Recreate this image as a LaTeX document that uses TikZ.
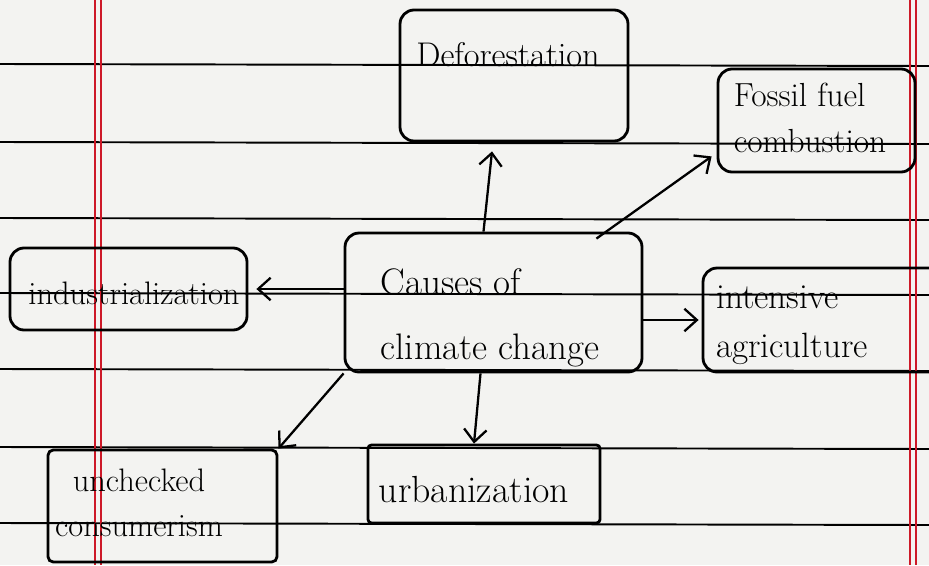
\documentclass[tikz,border=0pt]{standalone}
\usetikzlibrary{arrows.meta,calc,fit}
\definecolor{paper}{RGB}{243,243,241}
\definecolor{margin}{RGB}{205,25,40}
\tikzset{
  box/.style={draw, line width=1.6pt, rounded corners=8pt, inner sep=0pt},
  arr/.style={line width=1.3pt, -{Straight Barb[length=2.5mm,width=4.5mm]}},
  rule/.style={line width=1.1pt},
  hand/.style={inner sep=0pt, align=left},
}
\begin{document}
\begin{tikzpicture}[x=0.02cm,y=-0.02cm]
    \useasboundingbox (0,0) rectangle (929,565);
    \clip (0,0) rectangle (929,565);
    \fill[paper] (0,0) rectangle (929,565);

    % ruled paper
    \foreach \y in {64,142,218,293,369,447,523}
      \draw[rule] (0,\y) -- (929,\y+2);
    \foreach \x in {95,101,910,916}
      \draw[margin, line width=0.8pt] (\x,0) -- (\x,565);

    % boxes
    \node[box, fit={(400,10) (628,141)}] (defor) {};
    \node[box, fit={(718,69) (915,172)}] (fossil) {};
    \node[box, fit={(345,233) (642,372)}] (causes) {};
    \node[box, fit={(10,248) (247,330)}] (indus) {};
    \node[box, fit={(703,268) (950,372)}] (agri) {};
    \node[box, rounded corners=3pt, fit={(48,450) (277,562)}] (consum) {};
    \node[box, rounded corners=2pt, fit={(368,445) (600,523)}] (urban) {};

    \node[hand, font=\fontsize{19.5}{20}\selectfont] (tdefor) at (508,55) {Deforestation};
    \node[hand, font=\fontsize{19}{26}\selectfont] (tfossil) at (810,118) {Fossil fuel\\combustion};
    \node[hand, font=\fontsize{21}{37}\selectfont] (tcauses) at (490,318) {Causes of\\climate change};
    \node[hand, font=\fontsize{18.5}{20}\selectfont] (tindus) at (134,293) {industrialization};
    \node[hand, font=\fontsize{20}{28}\selectfont] (tagri) at (792,325) {intensive\\agriculture};
    \node[hand, align=center, font=\fontsize{18.5}{26}\selectfont] (tconsum) at (139,503) {unchecked\\consumerism};
    \node[hand, font=\fontsize{21.5}{22}\selectfont] (turban) at (474,490) {urbanization};

    % arrows out of the centre box
    \draw[arr] ($(causes.north)+(-10,0)$) -- ($(defor.south)+(-22,9)$);
    \draw[arr] ($(causes.north east)+(-47,7)$) -- ($(fossil.south west)+(-5,-17)$);
    \draw[arr] (causes.west |- indus.east) -- ($(indus.east)+(8,0)$);
    \draw[arr] (causes.east |- agri.west) -- ($(agri.west)+(-3,0)$);
    \draw[arr] ($(causes.south)+(-13,0)$) -- ($(urban.north)+(-10,0)$);
    \draw[arr] (causes.south west) -- (consum.north east);

\end{tikzpicture}
\end{document}
